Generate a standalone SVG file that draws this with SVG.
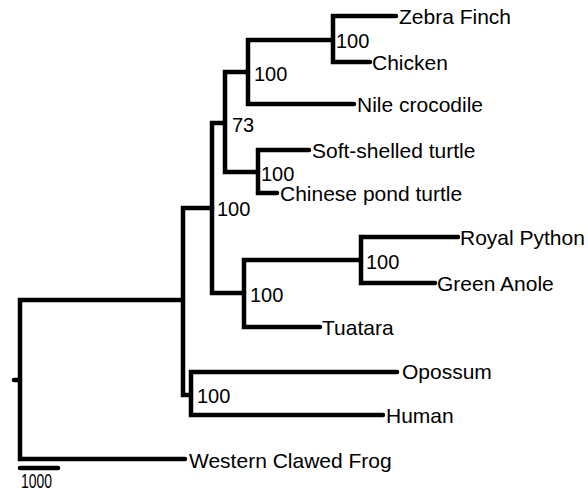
<svg xmlns="http://www.w3.org/2000/svg" width="588" height="492" viewBox="0 0 588 492">
<style>
.e{fill:none;stroke:#000;stroke-width:4.5;stroke-linecap:round;stroke-linejoin:miter}
.t{font-family:"Liberation Sans",Arial,sans-serif;font-size:21px;fill:#000}
.b{font-family:"Liberation Sans",Arial,sans-serif;font-size:20px;fill:#000}
</style>
<rect width="588" height="492" fill="#fff"/>
<g id="connectors" class="e">
<path d="M14,380H20"/>
<path d="M183,300H20V459H185"/>
<path d="M212,208H183V395H191"/>
<path d="M397,372H191V415H383"/>
<path d="M225,123H212V293H244"/>
<path d="M248,72H225V172H258"/>
<path d="M333,40H248V104H354"/>
<path d="M396,16H333V62H370"/>
<path d="M309,150H258V193H277"/>
<path d="M361,260H244V327H320"/>
<path d="M458,237H361V283H435"/>
<path d="M20,468H58"/>
</g>
<g id="scale"><text class="b" x="21" y="488" textLength="31" lengthAdjust="spacingAndGlyphs" style="font-size:20px">1000</text></g>
<g id="n-amniota"><text class="b" x="217" y="216">100</text></g>
<g id="n-mammals"><text class="b" x="197" y="403">100</text></g>
<g id="n-reptiles"><text class="b" x="232" y="132">73</text></g>
<g id="n-archosaurs"><text class="b" x="254" y="81">100</text></g>
<g id="n-birds"><text class="b" x="336" y="48">100</text></g>
<g id="n-turtles"><text class="b" x="261" y="181">100</text></g>
<g id="n-lepidosaurs"><text class="b" x="250" y="302">100</text></g>
<g id="n-squamates"><text class="b" x="366" y="269">100</text></g>
<g id="zebra-finch"><text class="t" x="399" y="24">Zebra Finch</text></g>
<g id="chicken"><text class="t" x="372" y="70">Chicken</text></g>
<g id="nile-crocodile"><text class="t" x="357" y="112">Nile crocodile</text></g>
<g id="soft-shelled-turtle"><text class="t" x="312" y="158">Soft-shelled turtle</text></g>
<g id="chinese-pond-turtle"><text class="t" x="280" y="201">Chinese pond turtle</text></g>
<g id="royal-python"><text class="t" x="460" y="245">Royal Python</text></g>
<g id="green-anole"><text class="t" x="437" y="291">Green Anole</text></g>
<g id="tuatara"><text class="t" x="322" y="335">Tuatara</text></g>
<g id="opossum"><text class="t" x="402" y="379">Opossum</text></g>
<g id="human"><text class="t" x="386" y="423">Human</text></g>
<g id="western-clawed-frog"><text class="t" x="189" y="468">Western Clawed Frog</text></g>
</svg>
